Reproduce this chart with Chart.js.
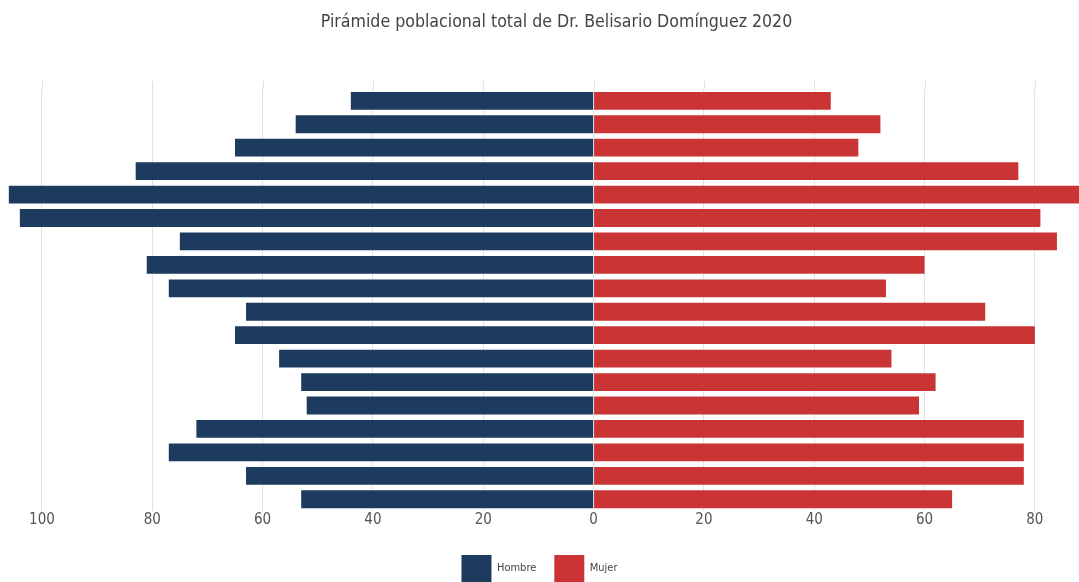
<!DOCTYPE html>
<html lang="es">
<head>
    <meta charset="UTF-8">
    <title>Pirámide poblacional</title>
    <script src="https://cdn.jsdelivr.net/npm/chart.js@4"></script>
    <style>
        body { margin: 0; background: #fff; }
        #wrap { width: 1079px; height: 582px; }
    </style>
</head>
<body>
    <div id="wrap">
        <canvas id="myChart" width="1079" height="582"></canvas>
    </div>

    <script>
        // grupos de edad, de arriba hacia abajo
        var edades = ['85 y más', '80-84', '75-79', '70-74', '65-69', '60-64', '55-59', '50-54', '45-49',
                      '40-44', '35-39', '30-34', '25-29', '20-24', '15-19', '10-14', '5-9', '0-4'];
        var hombres = [44, 54, 65, 83, 106, 104, 75, 81, 77, 63, 65, 57, 53, 52, 72, 77, 63, 53];
        var mujeres = [43, 52, 48, 77, 90, 81, 84, 60, 53, 71, 80, 54, 62, 59, 78, 78, 78, 65];
        var ticksX = [-100, -80, -60, -40, -20, 0, 20, 40, 60, 80];

        var fuente = "'Liberation Sans Narrow', 'DejaVu Sans Condensed', sans-serif";

        // las lineas de la reticula suben un poco por encima de las barras
        var gridArriba = {
            id: 'gridArriba',
            afterLayout: function (chart) {
                // el titulo va un poco a la derecha del centro
                if (chart.titleBlock) {
                    chart.titleBlock.left += 17;
                    chart.titleBlock.right += 17;
                }
            },
            beforeDatasetsDraw: function (chart) {
                var x = chart.scales.x, top = chart.chartArea.top;
                var c = chart.ctx;
                c.save();
                c.strokeStyle = '#e2e2e2';
                c.lineWidth = 1;
                x.ticks.forEach(function (t) {
                    var px = Math.round(x.getPixelForValue(t.value)) + 0.5;
                    c.beginPath();
                    c.moveTo(px, top - 8);
                    c.lineTo(px, top);
                    c.stroke();
                });
                c.restore();
            }
        };

        var ctx = document.getElementById('myChart').getContext('2d');
        var myChart = new Chart(ctx, {
            type: 'bar',
            data: {
                labels: edades,
                datasets: [{
                    label: 'Hombre',
                    data: hombres.map(function (v) { return -v; }),
                    backgroundColor: '#1d3b5e',
                    barPercentage: 0.76,
                    categoryPercentage: 1
                }, {
                    label: 'Mujer',
                    data: mujeres,
                    backgroundColor: '#cb3435',
                    barPercentage: 0.76,
                    categoryPercentage: 1
                }]
            },
            plugins: [gridArriba],
            options: {
                indexAxis: 'y',
                responsive: false,
                animation: false,
                layout: { padding: { left: 0, right: 0, top: 0, bottom: -10 } },
                scales: {
                    x: {
                        stacked: true,
                        min: -107.6,
                        max: 88,
                        afterBuildTicks: function (scale) {
                            scale.ticks = ticksX.map(function (v) { return { value: v }; });
                        },
                        afterFit: function (scale) { scale.height = 26; },
                        grid: { color: '#e2e2e2', lineWidth: 1, drawTicks: false },
                        border: { display: false },
                        ticks: {
                            padding: 0,
                            color: '#555',
                            font: { family: fuente, size: 15 },
                            callback: function (v) { return Math.abs(v); }
                        }
                    },
                    y: {
                        stacked: true,
                        display: false
                    }
                },
                plugins: {
                    title: {
                        display: true,
                        text: 'Pirámide poblacional total de Dr. Belisario Domínguez 2020',
                        color: '#444',
                        font: { family: fuente, size: 17.6, weight: 'normal' },
                        padding: { top: 12, bottom: 56 }
                    },
                    legend: {
                        position: 'bottom',
                        labels: {
                            boxWidth: 30,
                            boxHeight: 27,
                            padding: 18,
                            color: '#444',
                            font: { family: fuente, size: 11 }
                        }
                    },
                    tooltip: { enabled: true }
                }
            }
        });
    </script>
</body>
</html>
